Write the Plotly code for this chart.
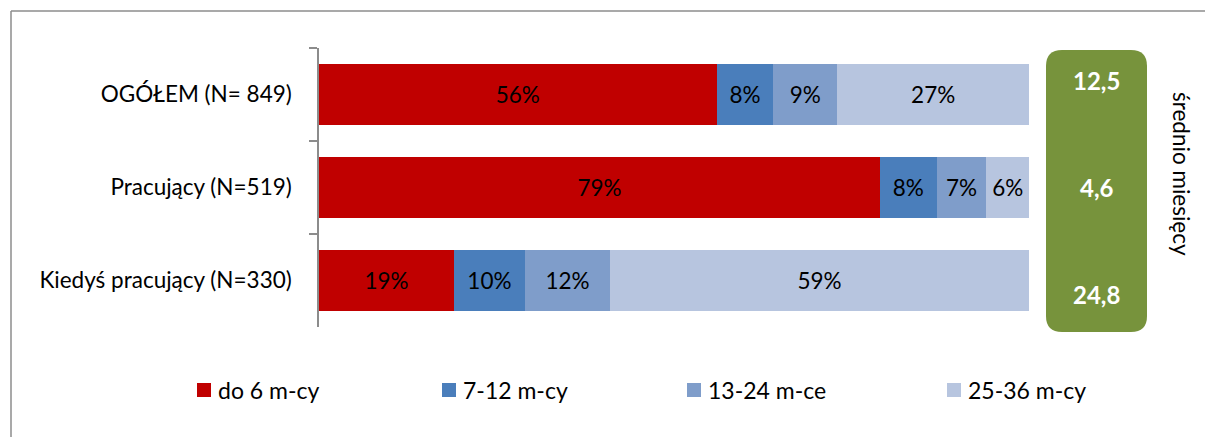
import plotly.graph_objects as go

# Czas poszukiwania pracy - struktura odpowiedzi (%)
categories = ["OGÓŁEM (N= 849)", "Pracujący (N=519)", "Kiedyś pracujący (N=330)"]
series_names = ["do 6 m-cy", "7-12 m-cy", "13-24 m-ce", "25-36 m-cy"]
share_do6 = [56, 79, 19]
share_7_12 = [8, 8, 10]
share_13_24 = [9, 7, 12]
share_25_36 = [27, 6, 59]
avg_months = [12.5, 4.6, 24.8]
avg_label = "średnio miesięcy"

W, H = 1205, 437
FONT = "Lato"
FS = 22.5
colors = ["#C00000", "#4A7EBB", "#7F9DCA", "#B7C5DF"]


def px(x):
    return x / W


def py(y):
    return 1 - y / H


fig = go.Figure()
for name, vals, col in zip(series_names,
                           [share_do6, share_7_12, share_13_24, share_25_36],
                           colors):
    fig.add_trace(go.Bar(
        x=vals, y=categories, orientation="h", name=name,
        marker=dict(color=col, line=dict(width=0)),
        text=[f"{v}%" for v in vals], textposition="inside",
        insidetextanchor="middle", textangle=0,
        textfont=dict(family=FONT, size=FS, color="#000000"),
        showlegend=False,
    ))

shapes = []
annotations = []

# ramka wykresu (góra i lewa krawędź)
shapes.append(dict(type="line", xref="paper", yref="paper",
                   x0=px(11), x1=1, y0=py(11), y1=py(11),
                   line=dict(color="#8C8C8C", width=1.5)))
shapes.append(dict(type="line", xref="paper", yref="paper",
                   x0=px(11), x1=px(11), y0=py(11), y1=0,
                   line=dict(color="#8C8C8C", width=1.5)))

# zielony panel ze średnią liczbą miesięcy (zaokrąglone rogi)
bx0, bx1, by0, by1, r = 1046, 1147, 50, 332, 16
path = (f"M {px(bx0 + r)},{py(by0)} L {px(bx1 - r)},{py(by0)} "
        f"Q {px(bx1)},{py(by0)} {px(bx1)},{py(by0 + r)} "
        f"L {px(bx1)},{py(by1 - r)} "
        f"Q {px(bx1)},{py(by1)} {px(bx1 - r)},{py(by1)} "
        f"L {px(bx0 + r)},{py(by1)} "
        f"Q {px(bx0)},{py(by1)} {px(bx0)},{py(by1 - r)} "
        f"L {px(bx0)},{py(by0 + r)} "
        f"Q {px(bx0)},{py(by0)} {px(bx0 + r)},{py(by0)} Z")
shapes.append(dict(type="path", xref="paper", yref="paper", path=path,
                   fillcolor="#77933C", line=dict(width=0), layer="below"))

for v, yc in zip(avg_months, [81, 188, 294]):
    annotations.append(dict(
        x=px((bx0 + bx1) / 2), y=py(yc), xref="paper", yref="paper",
        text=f"<b>{v:.1f}</b>".replace(".", ","), showarrow=False,
        font=dict(family=FONT, size=24, color="#FFFFFF"),
        xanchor="center", yanchor="middle"))

annotations.append(dict(
    x=px(1182), y=py(174), xref="paper", yref="paper", text=avg_label,
    textangle=90, showarrow=False,
    font=dict(family=FONT, size=FS, color="#000000"),
    xanchor="center", yanchor="middle"))

# legenda
for name, col, lx in zip(series_names, colors, [197, 442, 687, 947]):
    shapes.append(dict(type="rect", xref="paper", yref="paper",
                       x0=px(lx), x1=px(lx + 14), y0=py(383), y1=py(397),
                       fillcolor=col, line=dict(width=0)))
    annotations.append(dict(
        x=px(lx + 19), y=py(390), xref="paper", yref="paper", text=name,
        showarrow=False, xanchor="left", yanchor="middle",
        font=dict(family=FONT, size=FS + 0.5, color="#000000")))

fig.update_layout(
    width=W, height=H, barmode="stack", bargap=0.34,
    margin=dict(l=0, r=0, t=0, b=0),
    paper_bgcolor="#FFFFFF", plot_bgcolor="#FFFFFF",
    font=dict(family=FONT, size=FS, color="#000000"),
    shapes=shapes, annotations=annotations,
    uniformtext=dict(minsize=FS, mode="show"),
    xaxis=dict(domain=[px(319), px(1029)], range=[0, 100], visible=False,
               fixedrange=True),
    yaxis=dict(domain=[py(327), py(48)], range=[2.5, -0.5],
               type="category", categoryorder="array",
               categoryarray=categories,
               showline=True, linecolor="#8C8C8C", linewidth=1.5,
               ticks="outside", tickson="boundaries", ticklen=8,
               tickcolor="#8C8C8C", tickwidth=1.5,
               ticklabelstandoff=21, showgrid=False,
               tickfont=dict(family=FONT, size=FS, color="#000000")),
)

fig.write_html("out.html")
